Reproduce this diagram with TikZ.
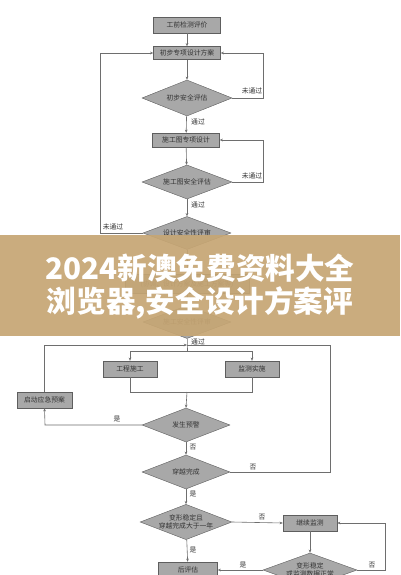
\documentclass[tikz,border=0pt]{standalone}
\usepackage{fontspec}
\newfontfamily\cjk{Noto Sans CJK SC}
\usetikzlibrary{shapes.geometric,arrows.meta}
\definecolor{linec}{HTML}{6E6E6E}
\definecolor{boxfill}{HTML}{A8A8A8}
\definecolor{boxline}{HTML}{5E5E5E}
\definecolor{textc}{HTML}{333333}
\definecolor{bannerc}{HTML}{C6A674}
\tikzset{
  fbox/.style={draw=boxline, fill=boxfill, inner sep=0, minimum width=67, minimum height=15,
    font=\cjk\fontsize{6.8}{7.5}\selectfont, text=textc},
  fdia/.style={diamond, draw=boxline, fill=boxfill, inner sep=0, aspect=2.6,
    minimum width=90, minimum height=35, align=center,
    font=\cjk\fontsize{6.8}{8}\selectfont, text=textc},
  conn/.style={draw=linec, line width=0.6pt},
  arr/.style={conn, -{Stealth[length=3.2pt,width=2.6pt]}},
  lbl/.style={font=\cjk\fontsize{6.8}{7}\selectfont, text=textc, inner sep=1pt},
  bannertext/.style={font=\cjk\bfseries\fontsize{29.6}{33}\selectfont, text=white}
}
\begin{document}
\begin{tikzpicture}[x=1pt,y=-1pt]
\useasboundingbox (0,0) rectangle (400,575);
\clip (0,0) rectangle (400,575);
\fill[white] (0,0) rectangle (400,575);
% nodes
\node[fbox, minimum height=16] (b1) at (187,25) {工前检测评价};
\node[fbox, minimum height=13] (b2) at (187,53) {初步专项设计方案};
\node[fdia, minimum height=36] (d1) at (187,98) {初步安全评估};
\node[fbox, minimum height=14] (b3) at (186,140) {施工图专项设计};
\node[fdia, minimum height=34] (d2) at (187,182) {施工图安全评估};
\node[fdia, minimum width=88, minimum height=33] (d3) at (187,233) {设计安全性评审};
\node[fbox, minimum width=124, minimum height=19] (b4) at (187,284) {(协调、设计方案及施工方案等)};
\node[fdia, minimum width=88, minimum height=33] (d4) at (187,322) {施工安全性评审};
\node[fbox, minimum width=54, minimum height=16] (b5) at (130,369) {工程施工};
\node[fbox, minimum width=54, minimum height=16] (b6) at (252,369) {监测实施};
\node[fbox, minimum width=55, minimum height=16] (b7) at (44.5,400) {启动应急预案};
\node[fdia, minimum width=88, minimum height=34] (d5) at (186,425) {发生预警};
\node[fdia, minimum width=88, minimum height=34] (d6) at (186,472) {穿越完成};
\node[fdia, minimum width=88, minimum height=34] (d7) at (186,522) {变形稳定且\\穿越完成大于一年};
\node[fbox, minimum width=54, minimum height=16] (b8) at (310,523) {继续监测};
\node[fbox, minimum width=59, minimum height=16] (b9) at (188,570) {后评估};
\node[fdia, minimum width=94, minimum height=34] (d8) at (310,570) {变形稳定\\或监测数据正常};
% coordinates
\coordinate (r1) at (263,98);
\coordinate (r2) at (263,182);
\coordinate (l1) at (100,233);
\coordinate (j) at (187,345);
\coordinate (j2) at (187,351);
\coordinate (s1) at (130,351);
\coordinate (s2) at (252,351);
\coordinate (m1) at (130,392);
\coordinate (m2) at (252,392);
\coordinate (m) at (187,392);
\coordinate (e1) at (45,425);
\coordinate (q1) at (330,472);
\coordinate (g1) at (385,570);
% connectors
\draw[arr] (b1) -- (b2);
\draw[arr] (b2) -- (d1);
\draw[arr] (d1.east) -- (r1) |- (b2.east);
\node[lbl] at (252,91) {未通过};
\draw[arr] (d1) -- (b3);
\node[lbl] at (198,122) {通过};
\draw[arr] (b3) -- (d2);
\draw[arr] (d2.east) -- (r2) |- (b3.east);
\node[lbl] at (252,176) {未通过};
\draw[arr] (d2) -- (d3);
\node[lbl] at (198,205) {通过};
\draw[arr] (d3.west) -- (l1) |- (b2.west);
\node[lbl] at (113,227) {未通过};
\draw[arr] (d3) -- (b4);
\draw[arr] (b4) -- (d4);
\draw[conn] (d4.south) -- (j) -- (j2);
\node[lbl] at (198,342) {通过};
\draw[conn] (s1) -- (s2);
\draw[arr] (s1) -- (b5.north);
\draw[arr] (s2) -- (b6.north);
\draw[conn] (b5.south) -- (m1) -- (m2) -- (b6.south);
\draw[arr] (m) -- (d5.north);
\draw[arr] (d5.west) -- (e1) -- (b7.south);
\node[lbl] at (117,419) {是};
\draw[arr] (b7.north) |- (j);
\draw[arr] (d5) -- (d6);
\node[lbl] at (193,447) {否};
\draw[conn] (d6.east) -- (q1) |- (j);
\node[lbl] at (253,467) {否};
\draw[arr] (d6) -- (d7);
\node[lbl] at (193,494) {是};
\draw[arr] (d7.east) -- (b8.west);
\node[lbl] at (262,517) {否};
\draw[arr] (d7) -- (b9);
\node[lbl] at (193,550) {是};
\draw[arr] (b8) -- (d8);
\draw[arr] (d8.west) -- (b9.east);
\node[lbl] at (243,565) {是};
\draw[arr] (d8.east) -- (g1) |- (b8.east);
\node[lbl] at (372,565) {否};
% banner overlay
\fill[bannerc, fill opacity=0.92] (0,235) rectangle (400,336);
\node[bannertext] (t1) at (200,268) {2024新澳免费资料大全};
\node[bannertext] (t2) at (200,303) {浏览器,安全设计方案评};
\end{tikzpicture}
\end{document}
